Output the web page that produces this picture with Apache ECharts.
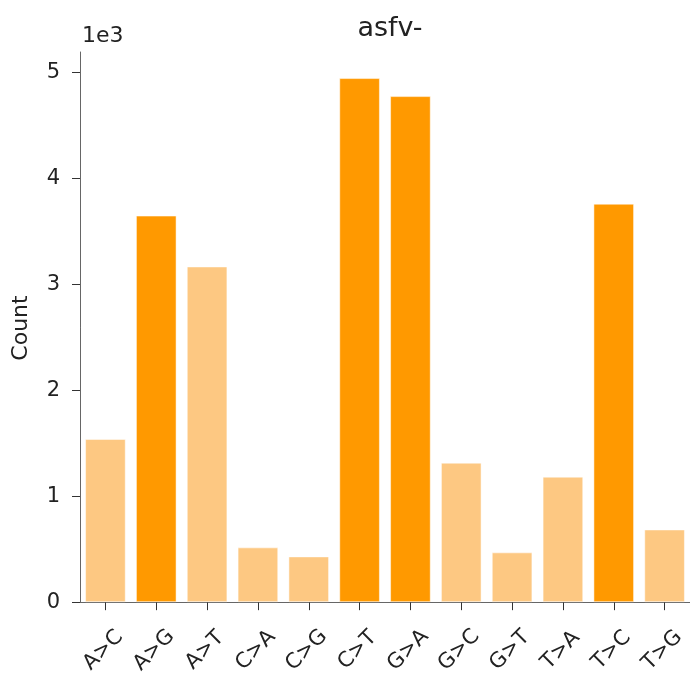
<!DOCTYPE html>
<html>
<head>
<meta charset="utf-8">
<script src="https://cdn.jsdelivr.net/npm/echarts@6/dist/echarts.min.js"></script>
<style>
html,body{margin:0;padding:0;background:#fff;}
#chart{width:690px;height:677px;}
</style>
</head>
<body>
<div id="chart"></div>
<script>
const categories = ['A>C','A>G','A>T','C>A','C>G','C>T','G>A','G>C','G>T','T>A','T>C','T>G'];
const counts = [1540, 3647, 3167, 517, 432, 4944, 4774, 1316, 470, 1184, 3759, 686];
const transitions = [false, true, false, false, false, true, true, false, false, false, true, false];
const yTicks = [0, 1000, 2000, 3000, 4000, 5000];

const DARK = '#FF9900';
const LIGHT = '#FDC882';
const FONT = 'DejaVu Sans';

const chart = echarts.init(document.getElementById('chart'), null, {renderer: 'canvas'});
chart.setOption({
  animation: false,
  backgroundColor: '#fff',
  title: {
    text: 'asfv-',
    left: 385,
    textAlign: 'center',
    top: 10,
    textStyle: {fontFamily: FONT, fontSize: 27, fontWeight: 'normal', color: '#222'}
  },
  grid: {left: 80, right: 0, top: 52, bottom: 74, containLabel: false},
  xAxis: {
    type: 'category',
    data: categories,
    boundaryGap: true,
    axisLine: {show: true, lineStyle: {color: '#666', width: 1}},
    axisTick: {show: true, alignWithLabel: true, length: 8, lineStyle: {color: '#333'}},
    axisLabel: {
      interval: 0, rotate: 45, margin: 46,
      align: 'center', verticalAlign: 'middle',
      padding: [0, 6, 0, 0],
      fontFamily: FONT, fontSize: 21, color: '#222'
    },
    splitLine: {show: false}
  },
  yAxis: {
    type: 'value',
    min: 0,
    max: 5190,
    name: '1e3',
    nameLocation: 'end',
    nameGap: 5,
    nameTextStyle: {fontFamily: FONT, fontSize: 22, color: '#222', align: 'left', verticalAlign: 'bottom', padding: [0, 0, 0, 2]},
    axisLine: {show: true, lineStyle: {color: '#666', width: 1}},
    axisTick: {show: true, length: 8, lineStyle: {color: '#333'}, customValues: yTicks},
    axisLabel: {
      customValues: yTicks,
      formatter: function (v) { return String(Math.round(v / 1000)); },
      fontFamily: FONT, fontSize: 21, color: '#222', margin: 20
    },
    splitLine: {show: false}
  },
  graphic: [{
    type: 'text',
    x: 21, y: 328,
    rotation: Math.PI / 2,
    style: {text: 'Count', fontFamily: FONT, fontSize: 22, fill: '#222', align: 'center', verticalAlign: 'middle'}
  }],
  series: [{
    type: 'bar',
    barCategoryGap: '20%',
    data: counts.map(function (v, i) {
      return {value: v, itemStyle: {color: transitions[i] ? DARK : LIGHT}};
    }),
    itemStyle: {borderColor: 'rgba(255,255,255,0.5)', borderWidth: 1}
  }]
});
</script>
</body>
</html>
